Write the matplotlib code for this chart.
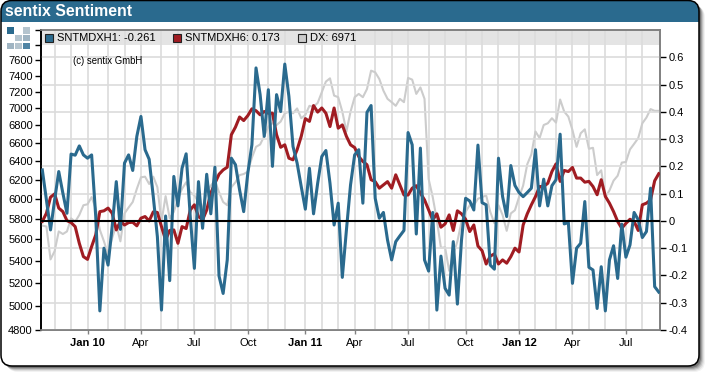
import numpy as np
import matplotlib
matplotlib.use("Agg")
import matplotlib.pyplot as plt
from matplotlib.patches import FancyBboxPatch, Rectangle
from matplotlib.ticker import NullLocator

plt.rcParams['font.family'] = ['Liberation Sans', 'DejaVu Sans']

# weekly readings
sntmdxh1 = [.187, .077, -.033, .077, .181, .102, .028, .245, .241, .275, .242, .230, .242, .016, -.330, -.100,
            -.162, -.021, .144, -.031, .212, .242, .185, .310, .383, .261, .226, .089, -.058, -.327, .018, -.219,
            .163, .055, .193, .246, .016, -.174, .144, -.027, .171, .026, .197, -.202, -.266, -.143, .230, .206,
            .114, .034, .175, .279, .561, .463, .310, .481, .200, .463, .401, .575, .457, .273, .212, .126,
            .043, .193, .026, .138, .236, .258, .138, -.015, .065, -.207, -.033, .132, .242, .261, .065, .398,
            .423, .083, .010, .031, -.070, -.143, -.076, -.055, -.035, .324, .279, -.048, .267, -.143, -.184, .031,
            -.327, -.129, -.247, -.272, -.076, -.305, -.070, .083, .073, .040, .278, .067, .059, -.162, -.177, .230,
            .089, .016, .203, .130, .104, .089, .104, .120, .261, .055, .153, .055, .129, .151, .318, -.011,
            -.006, -.229, -.100, -.082, .071, -.170, -.180, -.321, -.168, -.330, -.143, -.091, -.211, -.012, -.133, -.088,
            .031, .004, -.061, -.039, .120, -.241, -.261]
sntmdxh6 = [-.002, .028, .087, .099, .047, .034, .001, -.006, -.021, -.082, -.131, -.141, -.094, -.051, .034, .037,
            .047, .028, -.033, -.002, -.015, -.006, -.005, -.018, .010, .016, .000, .033, .031, -.021, -.070, -.035,
            -.033, -.082, -.021, -.028, .040, .059, .016, .004, .040, .102, .138, .171, .187, .197, .316, .344,
            .381, .368, .386, .411, .404, .389, .401, .395, .395, .316, .270, .279, .230, .224, .261, .310,
            .375, .365, .423, .399, .414, .395, .346, .414, .340, .352, .310, .279, .269, .236, .218, .206,
            .151, .144, .120, .132, .144, .120, .169, .132, .095, .095, .120, .129, .102, .077, .040, .004,
            .026, -.023, -.011, .022, -.035, .037, .026, .006, -.039, -.015, -.092, -.109, -.158, -.129, -.121, -.158,
            -.143, -.155, -.131, -.100, -.114, -.015, .026, .059, .089, .126, .126, .138, .181, .209, .145, .185,
            .181, .196, .157, .157, .142, .145, .126, .096, .151, .090, .065, .034, -.002, -.027, -.009, .006,
            -.002, -.035, .059, .065, .077, .147, .173]
dx = [5734, 5725, 5413, 5490, 5677, 5652, 5677, 5805, 5773, 5838, 5936, 5946, 6019, 5903, 5693, 5582,
      5459, 5614, 5741, 5582, 5854, 5913, 5969, 6104, 6225, 6232, 6155, 6232, 6121, 5773, 6029, 5805,
      5870, 6002, 6104, 6173, 6070, 6036, 5969, 5903, 6070, 6138, 6190, 6070, 5969, 5936, 6121, 6173,
      6249, 6260, 6285, 6437, 6557, 6583, 6678, 6786, 6825, 6805, 6845, 6942, 6961, 6942, 7000, 6884,
      6923, 7031, 7019, 7066, 7194, 7327, 7368, 7155, 7135, 6961, 6730, 6961, 7135, 7175, 7135, 7235,
      7465, 7444, 7360, 7215, 7115, 7075, 7031, 7115, 7075, 7373, 7352, 7175, 7255, 7115, 6208, 6019,
      5789, 5520, 5526, 5309, 5459, 5582, 5773, 5870, 5936, 5936, 6002, 6019, 6036, 5870, 5757, 5936,
      5838, 5683, 5854, 5886, 6019, 6138, 6365, 6473, 6730, 6655, 6805, 6825, 6884, 6833, 7107, 6961,
      6903, 6747, 6557, 6710, 6755, 6535, 6546, 6249, 6300, 6019, 6087, 6190, 6242, 6383, 6390, 6528,
      6590, 6655, 6825, 6892, 6992, 6971, 6971]

# week numbers of the quarter labels and the other month starts
quarter_weeks = [11, 24, 37, 50, 64, 76, 89, 103, 116, 129, 142]
quarter_labels = ['Jan 10', 'Apr', 'Jul', 'Oct', 'Jan 11', 'Apr', 'Jul', 'Oct', 'Jan 12', 'Apr', 'Jul']
month_weeks = [3, 7, 16, 20, 29, 33, 42, 46, 55, 59, 68, 72, 81, 85, 94, 98, 107, 111, 120, 125, 133, 137, 146]
dx_ticks = list(range(4800, 8001, 200))
sent_ticks = [-0.4, -0.3, -0.2, -0.1, 0, 0.1, 0.2, 0.3, 0.4, 0.5, 0.6]

BLUE = '#2a6a8e'
RED = '#a01c22'
GREY = '#cccccc'
GRID = '#dcdcdc'
AXIS = '#808080'
W, H = 710, 376

fig = plt.figure(figsize=(W / 100, H / 100), dpi=100, facecolor='white')

# background layer in pixel coords: shadow, frame, title bar, logo
bg = fig.add_axes([0, 0, 1, 1], zorder=0)
bg.set_xlim(0, W)
bg.set_ylim(H, 0)
bg.axis('off')

box = 'round,pad=0,rounding_size=11'
for off, a in [(6, .05), (5, .08), (4, .12), (3, .18), (2, .25)]:
    bg.add_patch(FancyBboxPatch((1 + off, 0.5 + off), 698, 365.5, boxstyle=box, fc='black', ec='none', alpha=a))
bg.add_patch(FancyBboxPatch((1, 0.5), 698, 365.5, boxstyle=box, fc='white', ec='none'))
bar = FancyBboxPatch((1, 0.5), 698, 60, boxstyle=box, fc=BLUE, ec='none')
bg.add_patch(bar)
bar.set_clip_path(Rectangle((0, 0), W, 21.5, transform=bg.transData))
bg.add_patch(FancyBboxPatch((1, 0.5), 698, 365.5, boxstyle=box, fc='none', ec='black', lw=1.1))
bg.text(5, 11.5, 'sentix Sentiment', color='white', fontsize=11.4, fontweight='bold', va='center')

for x, y, c in [(7, 27, BLUE), (23, 27, '#b4c4ce'), (15, 34.5, '#b4c4ce'), (23, 34.5, '#9fb4c2'),
                (7, 42.5, '#9fb4c2'), (15, 42.5, '#b4c4ce'), (23, 42.5, '#4f84a4')]:
    bg.add_patch(Rectangle((x, y), 6.5, 6.5, fc=c, ec='none'))

rect = [40.5 / W, (H - 330) / H, (660 - 40.5) / W, 300 / H]
ax = fig.add_axes(rect, zorder=1)
ax.patch.set_alpha(0)
ax2 = ax.twinx()
ax.set_zorder(1)
ax2.set_zorder(2)

weeks = np.arange(len(sntmdxh1))

# left axis, log scale
ax.plot(np.arange(len(dx)), dx, color=GREY, lw=1.5, zorder=3)
ax.set_yscale('log')
ax.set_ylim(4800, 8000)
ax.set_yticks(dx_ticks)
ax.set_yticklabels([str(v) if v <= 7600 else '' for v in dx_ticks], fontsize=8)
ax.yaxis.set_minor_locator(NullLocator())
ax.tick_params(axis='y', which='major', length=4, width=1, pad=1.5, color='black')

ax.set_xlim(-0.44, 150.3)
ax.set_xticks(quarter_weeks)
ax.set_xticklabels(quarter_labels, fontsize=8)
for lab in ax.get_xticklabels():
    if lab.get_text().startswith('Jan'):
        lab.set_fontweight('bold')
ax.set_xticks(month_weeks, minor=True)
ax.tick_params(axis='x', which='major', length=3, width=1, pad=3, color=AXIS)
ax.tick_params(axis='x', which='minor', length=0)
ax.grid(True, axis='x', which='both', color=GRID, lw=1.2)
ax.set_axisbelow(True)
ax.add_patch(Rectangle((0, 0.95), 1, 0.05, transform=ax.transAxes, fc='#e4e4e4', ec='none', zorder=0.5))

# right axis
ax2.plot(weeks[:len(sntmdxh6)], sntmdxh6, color=RED, lw=2.2, zorder=3)
ax2.plot(weeks, sntmdxh1, color=BLUE, lw=2.2, zorder=4)
ax2.axhline(0, color='black', lw=1.5, zorder=5)
ax2.set_ylim(-0.4, 0.7)
ax2.set_yticks(sent_ticks)
ax2.set_yticklabels(['0' if v == 0 else f'{v:g}' for v in sent_ticks], fontsize=8)
ax2.tick_params(axis='y', length=4, width=1, pad=2, color='black')
ax2.grid(True, axis='y', color=GRID, lw=1.2, zorder=1)
ax2.set_axisbelow(True)

for a in (ax, ax2):
    a.spines['top'].set_color(AXIS)
    a.spines['top'].set_linewidth(1.2)
    a.spines['right'].set_color(AXIS)
    a.spines['right'].set_linewidth(1.2)
    a.spines['bottom'].set_color(AXIS)
    a.spines['bottom'].set_linewidth(1.2)
    a.spines['left'].set_color('black')
    a.spines['left'].set_linewidth(1.2)

# legend strip, placed in pixel coords
legend_items = [(45, BLUE, f'SNTMDXH1: {sntmdxh1[-1]:.3f}'),
                (173, RED, f'SNTMDXH6: {sntmdxh6[-1]:.3f}'),
                (298, GREY, f'DX: {dx[-1]}')]
for x, c, label in legend_items:
    ax2.add_patch(Rectangle((x, 34), 8, 8, transform=bg.transData, fc=c, ec='#222222', lw=0.8,
                            zorder=6, clip_on=False))
    ax2.text(x + 12, 38, label, transform=bg.transData, fontsize=8, va='center', zorder=6)
ax2.text(73, 60.5, '(c) sentix GmbH', transform=bg.transData, fontsize=6.9, va='center', zorder=6)

fig.savefig('out.png', dpi=100)
